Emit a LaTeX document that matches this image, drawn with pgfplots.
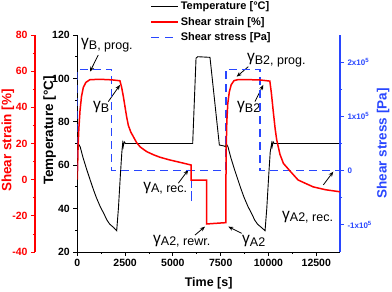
\documentclass[border=0pt]{standalone}
\usepackage{pgfplots}
\pgfplotsset{compat=1.18}
\usepackage{fontspec}
\setmainfont{Liberation Sans}
\usetikzlibrary{arrows.meta}
\definecolor{sblue}{RGB}{40,70,255}
\definecolor{sred}{RGB}{255,0,0}
\newcommand{\ann}[1]{{\fontsize{15.5}{15}\selectfont γ}\raisebox{-2.5pt}{\fontsize{12.5}{13}\selectfont #1}}
\pgfplotsset{
  common/.style={
    at={(0,0)}, anchor=south west, scale only axis,
    width=262.7pt, height=217pt, xmin=0, xmax=13740,
    tick align=outside, major tick length=4pt, minor tick length=2pt,
    /pgf/number format/assume math mode=true,
    axis line style={-, line width=0.9pt},
    label style={font=\bfseries\fontsize{12.5}{14}\selectfont},
    ylabel style={font=\bfseries\fontsize{13.5}{14}\selectfont},
  }
}
\begin{document}
\begin{tikzpicture}
% main: temperature
\begin{axis}[common, name=main,
  ymin=20, ymax=120,
  axis x line*=bottom, axis y line*=left,
  xtick={0,2500,...,12500}, ytick={20,40,...,120},
  minor x tick num=1, minor y tick num=1,
  tick style={black, line width=0.8pt},
  tick label style={font=\bfseries\fontsize{10.5}{12}\selectfont},
  scaled x ticks=false,
  xticklabel style={/pgf/number format/set thousands separator={}},
  xlabel={Time [s]},
  xlabel style={at={(axis description cs:0.5,-0.143)}, anchor=center},
  ylabel={Temperature [°C]},
  ylabel style={at={(axis description cs:-0.105,0.56)}, anchor=center},
  legend style={at={(axis description cs:0.277,1.165)}, anchor=north west, draw=none, fill=none,
    font=\bfseries\fontsize{11}{11}\selectfont, inner sep=0pt, row sep=2.2pt,
    cells={anchor=west}},
  legend cell align=left,
  legend image code/.code={\draw[#1] (0pt,0pt) -- (27pt,0pt);},
]
\addplot[black, line width=0.9pt] coordinates {
(50,70) (150,68.5) (300,63.5) (500,57.8) (700,52.5) (850,48.6) (1000,45) (1200,40.9)
(1400,37.5) (1550,34.7) (1700,32.8) (1900,31.3) (2060,29.8) (2150,40) (2250,55)
(2330,66) (2373,70) (2400,68.5) (2450,70.8) (2520,70) (6035,70) (6210,109.3)
(6300,110) (6940,109.7) (7430,69.3) (7700,68.8) (7760,68.5) (7780,70)
(7880,68.5) (8030,63.5) (8230,57.8) (8430,52.5) (8580,48.6) (8730,45) (8930,40.9)
(9130,37.5) (9280,34.7) (9430,32.8) (9630,31.3) (9820,29.8) (9910,40) (10010,55)
(10090,66) (10165,70) (10190,68.5) (10240,70.8) (10300,70) (13740,70)
};
\addlegendentry{\textbf{Temperature [°C]}}
\addlegendimage{sred, line width=1.5pt}
\addlegendentry{\textbf{Shear strain [\%]}}
\addlegendimage{sblue, line width=1.3pt, dash pattern=on 8pt off 6pt}
\addlegendentry{\textbf{Shear stress [Pa]}}
% annotations
\node[anchor=west, inner sep=0pt] at (axis cs:194,115.4) {\ann{B, prog.}};
\draw[-{Stealth[length=5pt,width=4pt]}, line width=0.8pt] (axis cs:1098,110.8) -- (axis cs:664,103.1);
\node[anchor=west, inner sep=0pt] at (axis cs:821,86.8) {\ann{B}};
\draw[-{Stealth[length=5pt,width=4pt]}, line width=0.8pt] (axis cs:1621,89.3) -- (axis cs:2233,97.0);
\node[anchor=west, inner sep=0pt] at (axis cs:8870,108.5) {\ann{B2, prog.}};
\draw[-{Stealth[length=5pt,width=4pt]}, line width=0.8pt] (axis cs:8943,105.4) -- (axis cs:8336,100.8);
\node[anchor=west, inner sep=0pt] at (axis cs:8352,86.8) {\ann{B2}};
\draw[-{Stealth[length=5pt,width=4pt]}, line width=0.8pt] (axis cs:9294,89.3) -- (axis cs:9728,97.0);
\node[anchor=west, inner sep=0pt] at (axis cs:3441,49.5) {\ann{A, rec.}};
\draw[-{Stealth[length=5pt,width=4pt]}, line width=0.8pt] (axis cs:5282,51.7) -- (axis cs:5805,57.8);
\node[anchor=west, inner sep=0pt] at (axis cs:3959,25) {\ann{A2, rewr.}};
\draw[-{Stealth[length=5pt,width=4pt]}, line width=0.8pt] (axis cs:6155,27.8) -- (axis cs:6678,31.7);
\node[anchor=west, inner sep=0pt] at (axis cs:8614,25) {\ann{A2}};
\draw[-{Stealth[length=5pt,width=4pt]}, line width=0.8pt] (axis cs:8598,28.6) -- (axis cs:7897,31.7);
\node[anchor=west, inner sep=0pt] at (axis cs:10706,36.1) {\ann{A2, rec.}};
\draw[-{Stealth[length=5pt,width=4pt]}, line width=0.8pt] (axis cs:12866,50.9) -- (axis cs:13388,57.0);
\end{axis}
% shear stress (right, blue)
\begin{axis}[common,
  ymin=-1.5, ymax=2.5,
  hide x axis, axis y line*=right,
  y axis line style={sblue, line width=1.2pt},
  ytick={-1,0,1,2}, minor y tick num=1,
  yticklabels={\textbf{-1x10\textsuperscript{5}},\textbf{0},\textbf{1x10\textsuperscript{5}},\textbf{2x10\textsuperscript{5}}},
  tick style={sblue, line width=0.8pt},
  yticklabel style={sblue, font=\bfseries\fontsize{8}{9}\selectfont},
  ylabel={Shear stress [Pa]},
  ylabel style={sblue, at={(axis description cs:1.164,0.5)}, anchor=center},
]
\addplot[sblue, line width=1.3pt, dash pattern=on 8pt off 5pt] coordinates {
(0,0) (20,0) (20,1.87) (1800,1.87) (1800,0) (5990,0) (5990,-0.59) (5990,0)
(7770,0) (7770,1.87) (9555,1.87) (9555,0) (13740,0)
};
\end{axis}
% shear strain (left, red, offset)
\begin{axis}[common,
  ymin=-40, ymax=80,
  hide x axis, axis y line*=left, axis y line shift=42.3pt,
  y axis line style={sred, line width=1.2pt},
  ytick={-40,-20,...,80}, minor y tick num=1,
  tick style={sred, line width=0.8pt},
  yticklabel style={sred, font=\bfseries\fontsize{10.5}{12}\selectfont},
  ylabel={Shear strain [\%]},
  ylabel style={sred, at={(axis description cs:-0.264,0.514)}, anchor=center},
]
\addplot[sred, line width=1.5pt] coordinates {
(0,0) (40,18) (80,28) (141,38) (220,46) (314,51) (450,53.8) (660,55.3) (1200,55.5)
(1800,55.2) (2230,54.7) (2320,51) (2410,45.9) (2500,40) (2580,34.8) (2670,30)
(2800,26.3) (2930,23.8) (3100,20.5) (3300,18) (3630,15.5) (4000,13.7) (4325,12.4)
(4800,11) (5200,10) (5600,9) (5950,8.1) (5950,-0.2) (6765,-0.2) (6765,-24.5)
(7725,-23.8) (7765,-23.8) (7775,0) (7790,18) (7820,32) (7870,42) (7950,48.5)
(8050,52.5) (8200,54.8) (8400,55.3) (9000,55.3) (9600,55.1) (10070,54.5) (10150,48)
(10260,36.7) (10350,28) (10430,22) (10600,14) (10780,9) (11125,4.8) (11550,-0.2)
(12340,-4) (13000,-5.6) (13740,-6.7)
};
\end{axis}
\pgfresetboundingbox
\path (-77.3pt,-40pt) rectangle (314.7pt,252pt);
\end{tikzpicture}
\end{document}
